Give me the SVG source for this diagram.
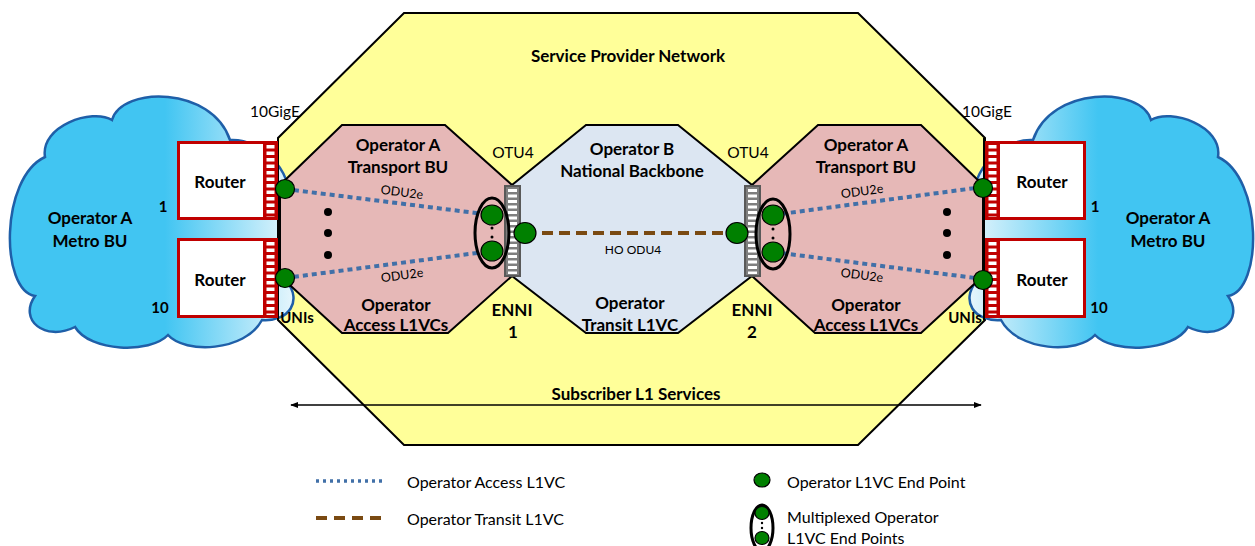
<svg xmlns="http://www.w3.org/2000/svg" width="1255" height="546" viewBox="0 0 1255 546">
<style>
text{font-family:Lato,"Liberation Sans",sans-serif;fill:#000;text-anchor:middle;dominant-baseline:central}
.b{font-weight:bold;font-size:17px}
.r{font-size:15.5px}
.s{font-size:12.5px}
.lg{font-size:16px;text-anchor:start}
.ep{fill:#008000;stroke:#000;stroke-width:1.2}
.acc{fill:none;stroke:#4170a8;stroke-width:4;stroke-dasharray:5 4}
.tr{fill:none;stroke:#7a4a12;stroke-width:4;stroke-dasharray:11 6}
.rtr{fill:#fff;stroke:#c00000;stroke-width:3}
.strip{fill:#c00000}
.bars{stroke:#fff;stroke-width:8;stroke-dasharray:3.5 3}
.enni{fill:#7f7f7f;stroke:#595959;stroke-width:2}
.ebars{stroke:#fff;stroke-width:9;stroke-dasharray:3 2.5}
.mux{fill:none;stroke:#000;stroke-width:3}
.dot{fill:#000}
</style>
<defs>
<linearGradient id="cg" gradientUnits="userSpaceOnUse" x1="165" y1="0" x2="292" y2="0">
<stop offset="0" stop-color="#41c5f2"/>
<stop offset="1" stop-color="#e4f5fc"/>
</linearGradient>
<marker id="ah" viewBox="0 0 10 10" refX="9" refY="5" markerWidth="8" markerHeight="8" orient="auto-start-reverse" markerUnits="userSpaceOnUse">
<path d="M0,1 L10,5 L0,9 Z" fill="#000"/>
</marker>
<path id="cloud" d="M112,120 C122,86 212,86 230,140 C262,138 300,175 287,215 L287,282 C302,300 290,322 262,320 C245,352 185,354 168,335 C150,354 90,352 75,327 C45,342 18,320 35,296 C0,290 0,178 45,157 C40,126 92,108 112,120 Z"/>
</defs>

<g id="spn">
<polygon points="404,13 858,13 985,138 985,320 858,445 404,445 278,320 278,138" fill="#ffff99" stroke="#000" stroke-width="2"/>
<text class="b" x="628" y="55">Service Provider Network</text>
</g>

<g id="cloud-left">
<use href="#cloud" fill="url(#cg)" stroke="#1f5fa8" stroke-width="2.5"/>
<text class="b" x="90" y="217">Operator A</text>
<text class="b" x="90" y="240">Metro BU</text>
</g>
<g id="cloud-right">
<use href="#cloud" transform="matrix(-1 0 0 1 1263 0)" fill="url(#cg)" stroke="#1f5fa8" stroke-width="2.5"/>
<text class="b" x="1168" y="217">Operator A</text>
<text class="b" x="1168" y="240">Metro BU</text>
</g>
<line x1="278" y1="138" x2="278" y2="320" stroke="#000" stroke-width="2"/>
<line x1="984" y1="138" x2="984" y2="320" stroke="#000" stroke-width="2"/>

<g id="transport-left">
<polygon points="342,125 445,125 512,185 512,276 448,333 342,333 280,276 280,185" fill="#e6b8b7" stroke="#000" stroke-width="2"/>
<text class="b" x="398" y="144">Operator A</text>
<text class="b" x="398" y="166">Transport BU</text>
<text class="b" x="396" y="304">Operator</text>
<text class="b" x="396" y="324">Access L1VCs</text>
</g>
<g id="backbone">
<polygon points="586,125 678,125 752,185 752,276 678,333 586,333 512,276 512,185" fill="#dce6f2" stroke="#000" stroke-width="2"/>
<text class="b" x="632" y="148">Operator B</text>
<text class="b" x="632" y="170">National Backbone</text>
<text class="b" x="630" y="302">Operator</text>
<text class="b" x="630" y="324">Transit L1VC</text>
</g>
<g id="transport-right">
<polygon points="818,125 921,125 983,185 983,276 921,333 815,333 752,276 752,185" fill="#e6b8b7" stroke="#000" stroke-width="2"/>
<text class="b" x="866" y="144">Operator A</text>
<text class="b" x="866" y="166">Transport BU</text>
<text class="b" x="866" y="304">Operator</text>
<text class="b" x="866" y="324">Access L1VCs</text>
</g>

<g id="router-l1">
<rect class="rtr" x="178.5" y="142.5" width="98" height="76"/>
<rect class="strip" x="263" y="141" width="15" height="79"/>
<line class="bars" x1="270.5" y1="145" x2="270.5" y2="217"/>
<text class="b" x="220" y="181">Router</text>
</g>
<g id="router-l10">
<rect class="rtr" x="178.5" y="239.5" width="98" height="77"/>
<rect class="strip" x="263" y="238" width="15" height="80"/>
<line class="bars" x1="270.5" y1="242" x2="270.5" y2="315"/>
<text class="b" x="220" y="279">Router</text>
</g>
<g id="router-r1">
<rect class="rtr" x="986.5" y="142.5" width="98" height="76"/>
<rect class="strip" x="985" y="141" width="15" height="79"/>
<line class="bars" x1="992.5" y1="145" x2="992.5" y2="217"/>
<text class="b" x="1042" y="181">Router</text>
</g>
<g id="router-r10">
<rect class="rtr" x="986.5" y="239.5" width="98" height="77"/>
<rect class="strip" x="985" y="238" width="15" height="80"/>
<line class="bars" x1="992.5" y1="242" x2="992.5" y2="315"/>
<text class="b" x="1042" y="279">Router</text>
</g>

<g id="enni1">
<rect class="enni" x="505" y="186" width="15" height="90"/>
<line class="ebars" x1="512.5" y1="189" x2="512.5" y2="274"/>
</g>
<g id="enni2">
<rect class="enni" x="745" y="186" width="15" height="90"/>
<line class="ebars" x1="752.5" y1="189" x2="752.5" y2="274"/>
</g>

<g id="connectors">
<line class="acc" x1="285" y1="189" x2="492" y2="215"/>
<line class="acc" x1="285" y1="278" x2="492" y2="251"/>
<line class="acc" x1="773" y1="215" x2="983" y2="187"/>
<line class="acc" x1="773" y1="252" x2="983" y2="279"/>
<line class="tr" x1="525" y1="233" x2="737" y2="233"/>
<line x1="291" y1="405" x2="981" y2="405" stroke="#000" stroke-width="1.5" marker-start="url(#ah)" marker-end="url(#ah)"/>
</g>

<g id="endpoints">
<circle class="ep" cx="285" cy="189" r="9.5"/>
<circle class="ep" cx="285" cy="278" r="9.5"/>
<circle class="ep" cx="983" cy="188" r="9.5"/>
<circle class="ep" cx="983" cy="280" r="9.5"/>
<ellipse class="ep" cx="525" cy="233" rx="11" ry="10.5"/>
<ellipse class="ep" cx="737" cy="233" rx="11" ry="10.5"/>
</g>
<g id="mux-left">
<ellipse class="mux" cx="492" cy="233" rx="17" ry="35"/>
<ellipse class="ep" cx="492" cy="215" rx="11" ry="10"/>
<ellipse class="ep" cx="492" cy="251" rx="11" ry="10"/>
<circle class="dot" cx="492" cy="228" r="1.5"/>
<circle class="dot" cx="492" cy="237" r="1.5"/>
</g>
<g id="mux-right">
<ellipse class="mux" cx="773" cy="234" rx="17" ry="35"/>
<ellipse class="ep" cx="773" cy="215" rx="11" ry="10"/>
<ellipse class="ep" cx="773" cy="252" rx="11" ry="10"/>
<circle class="dot" cx="773" cy="229" r="1.5"/>
<circle class="dot" cx="773" cy="238" r="1.5"/>
</g>

<g id="ellipsis">
<circle class="dot" cx="328" cy="212" r="4"/>
<circle class="dot" cx="328" cy="233" r="4"/>
<circle class="dot" cx="328" cy="255" r="4"/>
<circle class="dot" cx="947" cy="212" r="4"/>
<circle class="dot" cx="947" cy="233" r="4"/>
<circle class="dot" cx="947" cy="255" r="4"/>
</g>

<g id="labels">
<text class="r" x="275" y="111">10GigE</text>
<text class="r" x="987" y="111">10GigE</text>
<text class="r" x="513" y="152">OTU4</text>
<text class="r" x="748" y="152">OTU4</text>
<text class="b" x="512" y="309">ENNI</text>
<text class="b" x="513" y="331">1</text>
<text class="b" x="752" y="309">ENNI</text>
<text class="b" x="752" y="331">2</text>
<text class="b" x="297" y="317" style="font-size:15px">UNIs</text>
<text class="b" x="965" y="317" style="font-size:15px">UNIs</text>
<text class="b" x="163" y="206" style="font-size:15px">1</text>
<text class="b" x="160" y="307" style="font-size:15px">10</text>
<text class="b" x="1095" y="206" style="font-size:15px">1</text>
<text class="b" x="1099" y="307" style="font-size:15px">10</text>
<text class="s" x="402" y="192" transform="rotate(7.2 402 192)">ODU2e</text>
<text class="s" x="402" y="275" transform="rotate(-7.4 402 275)">ODU2e</text>
<text class="s" x="862" y="191" transform="rotate(-7.5 862 191)">ODU2e</text>
<text class="s" x="862" y="275" transform="rotate(7.3 862 275)">ODU2e</text>
<text class="s" x="633" y="249" style="font-size:12px">HO ODU4</text>
<text class="b" x="636" y="393">Subscriber L1 Services</text>
</g>

<g id="legend">
<line class="acc" x1="316" y1="481" x2="385" y2="481" style="stroke-width:3.5;stroke-dasharray:3 4"/>
<text class="lg" x="407" y="481">Operator Access L1VC</text>
<line class="tr" x1="316" y1="518" x2="385" y2="518" style="stroke-dasharray:11 7"/>
<text class="lg" x="407" y="518">Operator Transit L1VC</text>
<ellipse class="ep" cx="762" cy="480" rx="8" ry="7"/>
<text class="lg" x="787" y="481">Operator L1VC End Point</text>
<ellipse class="mux" cx="762" cy="528" rx="11" ry="23"/>
<ellipse class="ep" cx="762" cy="513" rx="7" ry="6.5"/>
<ellipse class="ep" cx="762" cy="538" rx="7" ry="6.5"/>
<circle class="dot" cx="762" cy="523" r="1.2"/>
<circle class="dot" cx="762" cy="528" r="1.2"/>
<text class="lg" x="787" y="516">Multiplexed Operator</text>
<text class="lg" x="787" y="537">L1VC End Points</text>
</g>
</svg>
